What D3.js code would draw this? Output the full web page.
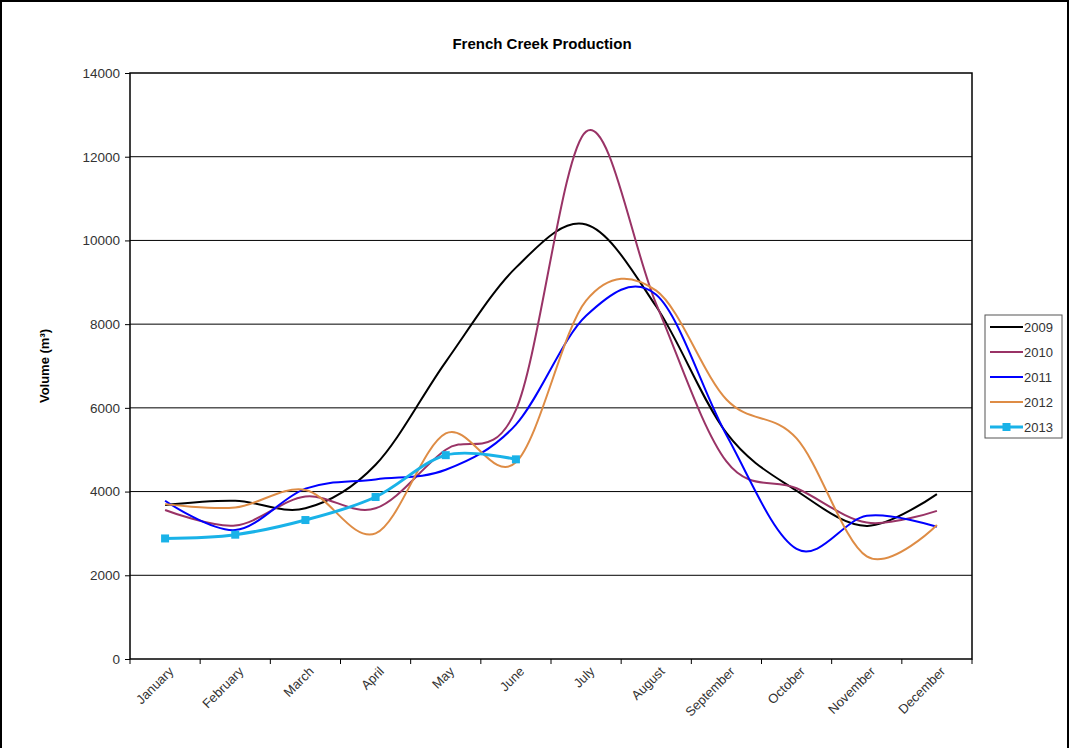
<!DOCTYPE html>
<html><head><meta charset="utf-8">
<script src="https://cdn.jsdelivr.net/npm/d3@7"></script>
<style>
html,body{margin:0;padding:0;background:#fff;}
svg{display:block;font-family:"Liberation Sans",Arial,sans-serif;}
</style></head>
<body>
<svg id="chart" width="1070" height="748"></svg>
<script>
const months = ["January","February","March","April","May","June","July","August","September","October","November","December"];
const years = ["2009","2010","2011","2012","2013"];
const v2009 = [3680, 3780, 3600, 4640, 7100, 9350, 10380, 8420, 5400, 4020, 3180, 3940];
const v2010 = [3560, 3190, 3880, 3600, 5000, 5950, 12600, 8480, 4720, 4080, 3260, 3540];
const v2011 = [3780, 3080, 4070, 4290, 4520, 5600, 8200, 8700, 5350, 2630, 3420, 3160];
const v2012 = [3700, 3620, 4040, 3000, 5390, 4700, 8560, 8800, 6200, 5270, 2450, 3200];
const v2013 = [2880, 2970, 3320, 3870, 4870, 4770];
const yTicks = [0, 2000, 4000, 6000, 8000, 10000, 12000, 14000];
const colors = ["#000000", "#993366", "#0000FF", "#DE8C45", "#19B2E8"];
const seriesValues = [v2009, v2010, v2011, v2012, v2013];

const svg = d3.select("#chart");
const L = 130, R = 972, T = 73, B = 659;

// outer border
svg.append("rect").attr("x",1).attr("y",1).attr("width",1067).attr("height",770)
  .attr("fill","none").attr("stroke","#000").attr("stroke-width",2);

const x = d3.scaleBand().domain(months).range([L, R]).padding(0);
const y = d3.scaleLinear().domain([0, 14000]).range([B, T]);
const cx = m => x(m) + x.bandwidth()/2;

// gridlines
svg.append("g").selectAll("line").data(yTicks.filter(t => t > 0 && t < 14000)).join("line")
  .attr("x1", L).attr("x2", R).attr("y1", d => y(d)).attr("y2", d => y(d))
  .attr("stroke", "#000").attr("stroke-width", 1);

// plot frame
svg.append("rect").attr("x", L).attr("y", T).attr("width", R-L).attr("height", B-T)
  .attr("fill","none").attr("stroke","#000").attr("stroke-width",1.5);

// y axis
const yAxis = svg.append("g").attr("transform", `translate(${L},0)`)
  .call(d3.axisLeft(y).tickValues(yTicks).tickSize(5).tickSizeOuter(0).tickFormat(d3.format("d")));
yAxis.select(".domain").remove();
yAxis.selectAll("line").attr("stroke","#000");
yAxis.selectAll("text").attr("font-size", 13.5).attr("fill", "#333")
  .attr("font-family", "'Liberation Sans',Arial,sans-serif").attr("x", -10);

// x axis
const xAxis = svg.append("g").attr("transform", `translate(0,${B})`)
  .call(d3.axisBottom(x).tickSize(0).tickSizeOuter(0));
xAxis.select(".domain").remove();
xAxis.selectAll(".tick text")
  .attr("font-size", 13).attr("fill", "#333")
  .attr("font-family", "'Liberation Sans',Arial,sans-serif")
  .attr("text-anchor", "end")
  .attr("transform", "translate(6,10) rotate(-45)")
  .attr("dy", "0.35em").attr("y", 0).attr("x", 0);
// boundary ticks
const bounds = months.map(m => x(m)).concat([R]);
svg.append("g").selectAll("line").data(bounds).join("line")
  .attr("x1", d => d).attr("x2", d => d).attr("y1", B).attr("y2", B+5)
  .attr("stroke", "#000").attr("stroke-width", 1);

// lines
const line = d3.line().x((d,i) => cx(months[i])).y(d => y(d)).curve(d3.curveCardinal.tension(0));
seriesValues.forEach((vals, k) => {
  svg.append("path").datum(vals).attr("d", line)
    .attr("fill", "none").attr("stroke", colors[k])
    .attr("stroke-width", k === 4 ? 3 : 2);
});
// markers for 2013
svg.append("g").selectAll("rect").data(v2013).join("rect")
  .attr("x", (d,i) => cx(months[i]) - 4).attr("y", d => y(d) - 4)
  .attr("width", 8).attr("height", 8).attr("fill", colors[4]);

// title
svg.append("text").attr("x", 542).attr("y", 49).attr("text-anchor","middle")
  .attr("font-size", 15).attr("font-weight","bold").text("French Creek Production");

// y axis title
svg.append("text").attr("transform", "translate(49,366) rotate(-90)").attr("text-anchor","middle")
  .attr("font-size", 13).attr("font-weight","bold").text("Volume (m³)");

// legend
const lg = svg.append("g");
lg.append("rect").attr("x", 985).attr("y", 315).attr("width", 77).attr("height", 123)
  .attr("fill","#fff").attr("stroke","#555").attr("stroke-width",1);
years.forEach((yr, k) => {
  const yy = 327 + k*25;
  lg.append("line").attr("x1", 990).attr("x2", 1023).attr("y1", yy).attr("y2", yy)
    .attr("stroke", colors[k]).attr("stroke-width", k === 4 ? 3 : 2);
  if (k === 4) lg.append("rect").attr("x", 1002.5).attr("y", yy-4).attr("width", 8).attr("height", 8).attr("fill", colors[4]);
  lg.append("text").attr("x", 1024).attr("y", yy).attr("dy","0.35em")
    .attr("font-size", 13).attr("fill","#333").text(yr);
});
</script>
</body></html>
